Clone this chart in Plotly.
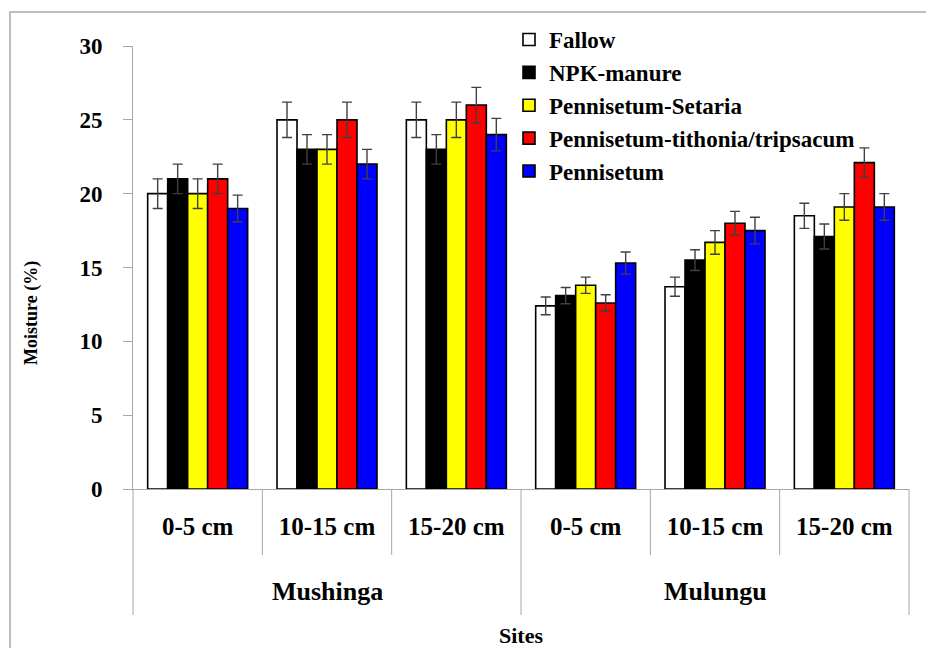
import plotly.graph_objects as go

sites = ["Mushinga", "Mushinga", "Mushinga", "Mulungu", "Mulungu", "Mulungu"]
depths = ["0-5 cm", "10-15 cm", "15-20 cm", "0-5 cm", "10-15 cm", "15-20 cm"]

series_names = ["Fallow", "NPK-manure", "Pennisetum-Setaria",
                "Pennisetum-tithonia/tripsacum", "Pennisetum"]
fallow = [20.0, 25.0, 25.0, 12.4, 13.7, 18.5]
npk_manure = [21.0, 23.0, 23.0, 13.1, 15.5, 17.1]
pen_setaria = [20.0, 23.0, 25.0, 13.8, 16.7, 19.1]
pen_tithonia = [21.0, 25.0, 26.0, 12.6, 18.0, 22.1]
pennisetum = [19.0, 22.0, 24.0, 15.3, 17.5, 19.1]

fallow_err = [1.0, 1.2, 1.2, 0.6, 0.65, 0.85]
npk_err = [1.0, 1.0, 1.0, 0.55, 0.7, 0.85]
setaria_err = [1.0, 1.0, 1.2, 0.55, 0.8, 0.9]
tithonia_err = [1.0, 1.2, 1.2, 0.55, 0.8, 1.0]
pennisetum_err = [0.9, 1.0, 1.1, 0.75, 0.9, 0.9]

colors = ["#FFFFFF", "#000000", "#FFFF00", "#FF0000", "#0000FF"]
values = [fallow, npk_manure, pen_setaria, pen_tithonia, pennisetum]
errors = [fallow_err, npk_err, setaria_err, tithonia_err, pennisetum_err]

y_ticks = [0, 5, 10, 15, 20, 25, 30]

FONT = "Liberation Serif"
W, H = 926, 648
L, R, T, B = 133, 17, 46, 159
pw, ph = W - L - R, H - T - B

keys = [f"{s}|{d}" for s, d in zip(sites, depths)]


def fnt(size):
    return dict(size=size, family=FONT, weight="bold")


template = go.layout.Template(layout=dict(font=dict(family=FONT, color="#000000")))

fig = go.Figure()
for name, vals, errs, col in zip(series_names, values, errors, colors):
    fig.add_trace(go.Bar(
        x=keys, y=vals, name=name,
        marker=dict(color=col, line=dict(color="#000000", width=1.6)),
        error_y=dict(type="data", array=errs, visible=True,
                     color="#404040", thickness=1.4, width=5),
    ))


def px_x(p):
    return (p - L) / pw


def px_y(p):
    return (H - B - p) / ph


GRAY = "#A8A8A8"
shapes = []
n = len(keys)
for i in range(0, n + 1):
    is_group = i == 0 or i == n or sites[i] != sites[i - 1]
    shapes.append(dict(type="line", xref="paper", yref="paper",
                       x0=i / n, x1=i / n, y0=0,
                       y1=px_y(615) if is_group else px_y(555),
                       line=dict(color=GRAY, width=1)))
# outer chart border
shapes.append(dict(type="rect", xref="paper", yref="paper",
                   x0=px_x(10), x1=px_x(940), y0=px_y(12), y1=px_y(660),
                   line=dict(color="#BDBDBD", width=2), fillcolor="rgba(0,0,0,0)",
                   layer="below"))

annotations = [
    dict(text="Moisture (%)", textangle=-90, xref="paper", yref="paper",
         x=px_x(31), y=px_y(313), xanchor="center", yanchor="middle",
         showarrow=False, font=fnt(18)),
    dict(text="Sites", xref="paper", yref="paper",
         x=0.5, y=px_y(635), xanchor="center", yanchor="middle",
         showarrow=False, font=fnt(22)),
]
unique_sites = list(dict.fromkeys(sites))
for s in unique_sites:
    idx = [i for i, v in enumerate(sites) if v == s]
    annotations.append(dict(text=s, xref="x", yref="paper",
                            x=sum(idx) / len(idx), y=px_y(591),
                            xanchor="center", yanchor="middle", showarrow=False,
                            font=fnt(26)))

fig.update_layout(
    template=template,
    width=W, height=H,
    margin=dict(l=L, r=R, t=T, b=B, autoexpand=False),
    paper_bgcolor="white", plot_bgcolor="white",
    barmode="group", bargap=0.227, bargroupgap=0,
    showlegend=True,
    legend=dict(x=px_x(509), y=px_y(18), xanchor="left", yanchor="top",
                bgcolor="rgba(0,0,0,0)", font=fnt(23),
                itemwidth=30, tracegroupgap=0),
    shapes=shapes,
    annotations=annotations,
)
fig.update_yaxes(range=[0, 30], tickvals=y_ticks, showgrid=False, zeroline=False,
                 showline=True, linecolor=GRAY, linewidth=1,
                 ticks="outside", ticklen=9, tickcolor=GRAY,
                 ticklabelstandoff=16, automargin=False,
                 tickfont=fnt(23))
fig.update_xaxes(type="category", tickvals=keys, ticktext=depths,
                 showgrid=False, showline=True, automargin=False,
                 linecolor=GRAY, linewidth=1, ticks="", ticklabelstandoff=15,
                 tickfont=fnt(25))

fig.write_html("out.html", config={"displayModeBar": False},
               post_script="document.body.style.margin='0';")
